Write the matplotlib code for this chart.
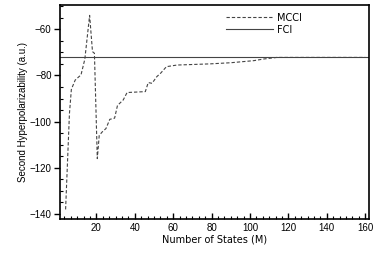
import numpy as np
import matplotlib
matplotlib.use("Agg")
import matplotlib.pyplot as plt
from matplotlib.ticker import MultipleLocator

# MCCI curve
n_states = [4, 6, 7, 9, 11, 12, 14, 16.5, 18, 19, 20.5, 21.5, 23, 25, 27, 29.5,
            31, 34, 36, 45.5, 47, 49, 51.5, 53.5, 56.5, 62, 79, 90, 102, 107,
            114, 120, 130, 140, 150, 160]
mcci = [-138, -96.5, -86, -82, -80.5, -79.8, -73, -54, -69.7, -70.4, -116, -106,
        -104.5, -103, -99, -98.5, -93, -90.6, -87.4, -87, -83.1, -83.4, -80.5,
        -79, -76.2, -75.5, -75, -74.5, -73.6, -72.9, -72.2, -72.2, -72.2,
        -72.2, -72.2, -72.2]
fci = -72.0

fig = plt.figure(figsize=(3.74, 2.64), dpi=100)
ax = fig.add_axes([0.160, 0.170, 0.827, 0.812])

ax.plot(n_states, mcci, color='#444444', lw=0.8, dashes=(3, 1.8), label='MCCI')
ax.axhline(fci, color='#444444', lw=0.8, label='FCI')

ax.set_xlim(1, 162)
ax.set_ylim(-142.2, -49.4)
ax.xaxis.set_major_locator(MultipleLocator(20))
ax.xaxis.set_minor_locator(MultipleLocator(20 / 6))
ax.yaxis.set_major_locator(MultipleLocator(20))
ax.yaxis.set_minor_locator(MultipleLocator(5))

ax.tick_params(axis='x', which='major', direction='in', length=4, width=1.0, pad=3)
ax.tick_params(axis='x', which='minor', direction='in', length=2, width=0.8)
ax.tick_params(axis='y', which='major', direction='out', length=4, width=1.0, pad=2)
ax.tick_params(axis='y', which='minor', direction='in', length=2, width=0.8)
for lab in ax.get_xticklabels() + ax.get_yticklabels():
    lab.set_fontfamily('Liberation Sans')
    lab.set_fontsize(7)
ax.set_xticks([20, 40, 60, 80, 100, 120, 140, 160])

for s in ax.spines.values():
    s.set_linewidth(1.2)

ax.set_xlabel('Number of States (M)', fontsize=7, family='DejaVu Sans', labelpad=1)
ax.set_ylabel('Second Hyperpolarizability (a.u.)', fontsize=7,
              family='Liberation Sans', labelpad=1)

leg = ax.legend(loc='upper right', bbox_to_anchor=(0.80, 0.99), frameon=False,
                prop={'family': 'DejaVu Sans', 'size': 7}, handlelength=4.8,
                handletextpad=0.4, labelspacing=0.2, borderaxespad=0.2)

fig.savefig('out.png', dpi=100)
